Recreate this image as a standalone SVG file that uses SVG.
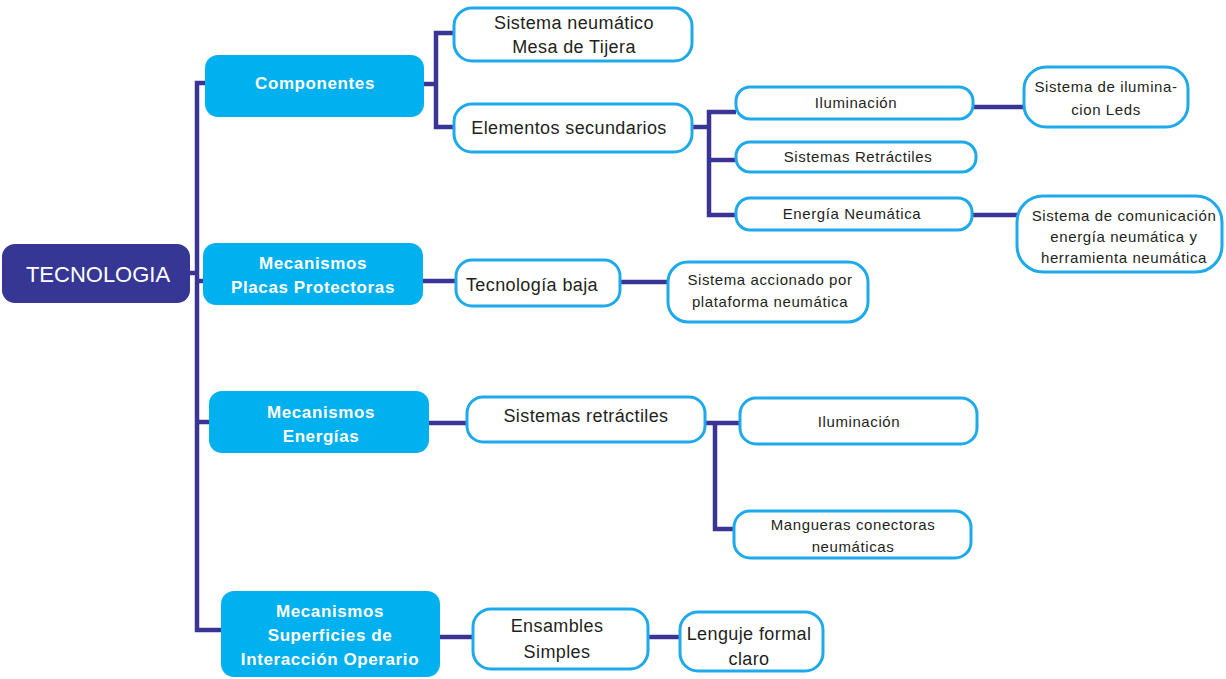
<svg xmlns="http://www.w3.org/2000/svg" width="1226" height="679" viewBox="0 0 1226 679">
  <style>
    .link { fill: none; stroke: #3a3594; stroke-width: 4.5; stroke-linejoin: miter; }
    .root { fill: #363795; }
    .main { fill: #00b0ef; }
    .leaf { fill: #ffffff; stroke: #1eaaea; stroke-width: 3; }
    .t-root { font-family: "Liberation Sans", Arial, sans-serif; font-size: 22px; fill: #ffffff; text-anchor: middle; }
    .t-main { font-family: "Liberation Sans", Arial, sans-serif; font-size: 17px; letter-spacing: 0.6px; font-weight: bold; fill: #ffffff; text-anchor: middle; }
    .t-big { font-family: "Liberation Sans", Arial, sans-serif; font-size: 18px; letter-spacing: 0.4px; fill: #231f20; text-anchor: middle; }
    .t-small { font-family: "Liberation Sans", Arial, sans-serif; font-size: 15px; letter-spacing: 0.6px; fill: #231f20; text-anchor: middle; }
  </style>

  <!-- connectors -->
  <g id="connectors">
    <!-- trunk from the root to the four branches -->
    <path class="link" d="M206 83 H197 V630 H222"/>
    <path class="link" d="M190 273 H197"/>
    <path class="link" d="M197 281 H204"/>
    <path class="link" d="M197 422 H210"/>
    <!-- Componentes -->
    <path class="link" d="M424 84 H436"/>
    <path class="link" d="M454 33 H436 V127 H454"/>
    <!-- Elementos secundarios -->
    <path class="link" d="M692 127 H709"/>
    <path class="link" d="M736 112 H709 V215 H736"/>
    <path class="link" d="M709 160 H736"/>
    <path class="link" d="M973 107 H1024"/>
    <path class="link" d="M972 215 H1017"/>
    <!-- Placas Protectoras -->
    <path class="link" d="M423 281 H456"/>
    <path class="link" d="M620 282 H668"/>
    <!-- Energías -->
    <path class="link" d="M429 423 H467"/>
    <path class="link" d="M705 423 H740"/>
    <path class="link" d="M715 423 V529 H734"/>
    <!-- Superficies de Interacción -->
    <path class="link" d="M440 637 H473"/>
    <path class="link" d="M648 637 H680"/>
  </g>

  <g id="tecnologia">
    <rect class="root" x="2" y="244" width="188" height="59" rx="13"/>
    <text class="t-root" x="98" y="282">TECNOLOGIA</text>
  </g>

  <g id="componentes">
    <rect class="main" x="205" y="55" width="219" height="62" rx="13"/>
    <text class="t-main" x="315" y="89">Componentes</text>
  </g>

  <g id="placas">
    <rect class="main" x="203" y="243" width="220" height="62" rx="13"/>
    <text class="t-main" x="313" y="269">Mecanismos</text>
    <text class="t-main" x="313" y="293">Placas Protectoras</text>
  </g>

  <g id="energias">
    <rect class="main" x="209" y="391" width="220" height="62" rx="13"/>
    <text class="t-main" x="321" y="418">Mecanismos</text>
    <text class="t-main" x="321" y="442">Energías</text>
  </g>

  <g id="superficies">
    <rect class="main" x="221" y="591" width="219" height="86" rx="13"/>
    <text class="t-main" x="330" y="617">Mecanismos</text>
    <text class="t-main" x="330" y="641">Superficies de</text>
    <text class="t-main" x="330" y="665">Interacción Operario</text>
  </g>

  <g id="mesa-tijera">
    <rect class="leaf" x="454" y="8" width="238" height="53" rx="18"/>
    <text class="t-big" x="574" y="29">Sistema neumático</text>
    <text class="t-big" x="574" y="53">Mesa de Tijera</text>
  </g>

  <g id="elementos">
    <rect class="leaf" x="454" y="104" width="238" height="48" rx="18"/>
    <text class="t-big" x="569" y="134">Elementos secundarios</text>
  </g>

  <g id="iluminacion-1">
    <rect class="leaf" x="736" y="87" width="237" height="32" rx="14"/>
    <text class="t-small" x="856" y="108">Iluminación</text>
  </g>

  <g id="retractiles-1">
    <rect class="leaf" x="736" y="142" width="240" height="30" rx="14"/>
    <text class="t-small" x="858" y="162">Sistemas Retráctiles</text>
  </g>

  <g id="energia-neumatica">
    <rect class="leaf" x="736" y="198" width="236" height="32" rx="14"/>
    <text class="t-small" x="852" y="219">Energía Neumática</text>
  </g>

  <g id="leds">
    <rect class="leaf" x="1024" y="67" width="164" height="60" rx="22"/>
    <text class="t-small" x="1106" y="92">Sistema de ilumina-</text>
    <text class="t-small" x="1106" y="115">cion Leds</text>
  </g>

  <g id="comunicacion">
    <rect class="leaf" x="1017" y="196" width="205" height="76" rx="26"/>
    <text class="t-small" x="1124" y="221">Sistema de comunicación</text>
    <text class="t-small" x="1124" y="242">energía neumática  y</text>
    <text class="t-small" x="1124" y="263">herramienta neumática</text>
  </g>

  <g id="tecnologia-baja">
    <rect class="leaf" x="456" y="260" width="164" height="46" rx="16"/>
    <text class="t-big" x="532" y="291">Tecnología baja</text>
  </g>

  <g id="accionado">
    <rect class="leaf" x="668" y="262" width="200" height="60" rx="20"/>
    <text class="t-small" x="770" y="285">Sistema accionado por</text>
    <text class="t-small" x="770" y="307">plataforma neumática</text>
  </g>

  <g id="retractiles-2">
    <rect class="leaf" x="467" y="397" width="238" height="45" rx="16"/>
    <text class="t-big" x="586" y="422">Sistemas retráctiles</text>
  </g>

  <g id="iluminacion-2">
    <rect class="leaf" x="740" y="398" width="237" height="46" rx="16"/>
    <text class="t-small" x="859" y="427">Iluminación</text>
  </g>

  <g id="mangueras">
    <rect class="leaf" x="734" y="511" width="237" height="47" rx="16"/>
    <text class="t-small" x="853" y="530">Mangueras conectoras</text>
    <text class="t-small" x="853" y="552">neumáticas</text>
  </g>

  <g id="ensambles">
    <rect class="leaf" x="473" y="609" width="175" height="60" rx="18"/>
    <text class="t-big" x="557" y="632">Ensambles</text>
    <text class="t-big" x="557" y="658">Simples</text>
  </g>

  <g id="lenguaje">
    <rect class="leaf" x="680" y="612" width="143" height="59" rx="18"/>
    <text class="t-big" x="749" y="640">Lenguje formal</text>
    <text class="t-big" x="749" y="665">claro</text>
  </g>
</svg>
